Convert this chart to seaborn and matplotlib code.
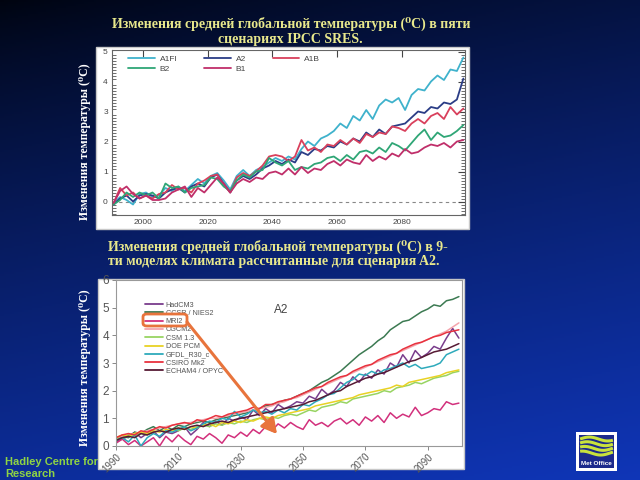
import numpy as np
import pandas as pd
import matplotlib
matplotlib.use('Agg')
import matplotlib.pyplot as plt
import seaborn as sns
from matplotlib.patches import Rectangle, FancyBboxPatch, FancyArrowPatch
from matplotlib.lines import Line2D
from matplotlib.ticker import MultipleLocator

# ---------------- data: top chart (IPCC SRES scenarios) ----------------
years_top = list(range(1991, 2100, 2))
scenarios = ['A1FI', 'A2', 'A1B', 'B2', 'B1']
a1fi = [-0.05, 0.15, 0.05, -0.1, 0.25, 0.3, 0.15, 0.2, 0.45, 0.35,
        0.5, 0.35, 0.55, 0.75, 0.6, 0.85, 0.95, 0.7, 0.4, 0.85,
        1.05, 0.85, 1.05, 1.15, 1.3, 1.45, 1.35, 1.5, 1.4, 1.75,
        2.0, 1.85, 2.1, 2.2, 2.35, 2.6, 2.45, 2.85, 2.7, 3.05,
        2.75, 3.2, 3.4, 3.3, 3.45, 3.05, 3.55, 3.75, 3.7, 4.0,
        4.2, 4.05, 4.4, 4.35, 4.8]
a2 = [-0.1, 0.1, 0.2, 0.0, 0.2, 0.25, 0.2, 0.1, 0.3, 0.4,
      0.45, 0.3, 0.5, 0.6, 0.5, 0.8, 0.9, 0.6, 0.3, 0.7,
      0.85, 0.75, 0.9, 1.1, 1.2, 1.35, 1.25, 1.4, 1.3, 1.65,
      1.55, 1.75, 1.7, 1.85, 1.8, 2.0, 1.9, 2.1, 2.0, 2.3,
      2.15, 2.4, 2.25, 2.5, 2.55, 2.6, 2.8, 3.0, 2.95, 3.15,
      3.1, 3.3, 3.25, 3.4, 4.1]
a1b = [-0.05, 0.45, 0.2, 0.3, 0.1, 0.2, 0.1, 0.25, 0.3, 0.55,
       0.4, 0.45, 0.3, 0.6, 0.7, 0.85, 0.9, 0.55, 0.3, 0.8,
       0.95, 0.85, 1.0, 1.2, 1.5, 1.55, 1.5, 1.35, 1.5, 2.05,
       1.7, 1.8, 1.65, 1.9, 1.85, 2.05, 1.9, 2.1, 1.95, 2.25,
       2.15, 2.3, 2.25, 2.5, 2.45, 2.35, 2.6, 2.75, 2.6, 2.85,
       2.95, 2.75, 3.15, 2.9, 3.1]
b2 = [-0.1, 0.05, 0.3, 0.15, 0.3, 0.2, 0.3, 0.1, 0.6, 0.45,
      0.5, 0.3, 0.45, 0.5, 0.55, 0.8, 0.75, 0.5, 0.35, 0.7,
      0.9, 0.8, 1.0, 1.05, 1.45, 1.3, 1.2, 1.35, 1.05, 1.15,
      1.1, 1.25, 1.3, 1.45, 1.5, 1.35, 1.55, 1.4, 1.65, 1.7,
      1.6, 1.8, 1.65, 1.95, 1.85, 1.7, 1.95, 2.2, 2.4, 2.05,
      2.3, 2.15, 2.2, 2.35, 2.55]
b1 = [-0.05, 0.35, 0.5, 0.25, 0.1, 0.2, 0.05, 0.05, 0.1, 0.3,
      0.4, 0.5, 0.15, 0.45, 0.3, 0.55, 0.8, 0.6, 0.3, 0.6,
      0.75, 0.65, 0.8, 0.75, 0.95, 1.0, 0.9, 1.1, 0.9, 1.15,
      0.95, 1.1, 1.05, 1.25, 1.35, 1.2, 1.4, 1.3, 1.25, 1.55,
      1.35, 1.5, 1.4, 1.6, 1.5, 1.75, 1.6, 1.65, 1.8, 1.9,
      1.85, 1.95, 1.8, 2.0, 2.05]
top_series = [a1fi, a2, a1b, b2, b1]
top_colors = ['#3fb2cc', '#2b3d86', '#d9405c', '#2fa676', '#c02f6a']

# ---------------- data: bottom chart (9 models, A2) ----------------
years_bot = list(range(1990, 2101, 2))
models = ['HadCM3', 'CCSR / NIES2', 'MRI2', 'CGCM2', 'CSM 1.3', 'DOE PCM',
          'GFDL_R30_c', 'CSIRO Mk2', 'ECHAM4 / OPYC']
hadcm3 = [0.15, 0.25, 0.35, 0.5, 0.3, 0.45, 0.55, 0.3, 0.5, 0.45,
          0.55, 0.7, 0.4, 0.6, 0.85, 0.7, 0.9, 0.75, 1.0, 0.9,
          1.05, 0.95, 1.3, 1.1, 1.35, 1.2, 1.5, 1.35, 1.45, 1.6,
          1.55, 1.8, 1.7, 2.05, 1.85, 2.0, 2.3, 2.15, 2.5, 2.3,
          2.6, 2.45, 2.75, 2.6, 3.0, 2.85, 3.3, 3.0, 3.45, 3.2,
          3.35, 3.6, 3.5, 3.9, 4.25, 3.9]
ccsr = [0.2, 0.35, 0.3, 0.5, 0.45, 0.6, 0.7, 0.55, 0.7, 0.6,
        0.75, 0.7, 0.8, 0.85, 0.9, 0.85, 0.95, 1.0, 1.05, 1.1,
        1.15, 1.2, 1.3, 1.35, 1.45, 1.5, 1.55, 1.65, 1.7, 1.8,
        1.9, 2.0, 2.15, 2.3, 2.4, 2.55, 2.7, 2.9, 3.1, 3.3,
        3.45, 3.6, 3.8, 3.95, 4.2, 4.35, 4.5, 4.55, 4.7, 4.85,
        4.95, 5.1, 5.05, 5.25, 5.3, 5.4]
mri2 = [0.1, 0.25, 0.05, 0.2, 0.0, 0.15, 0.3, 0.0, 0.35, 0.15,
        0.4, 0.2, 0.05, 0.35, 0.25, 0.45, 0.3, 0.1, 0.4, 0.3,
        0.5, 0.35, 0.6, 0.45, 0.7, 0.55, 0.8, 0.65, 0.85, 0.7,
        0.6, 0.95, 0.75, 0.85, 0.7, 0.9, 1.0, 0.8, 0.95, 0.75,
        1.05, 0.9, 1.1, 0.85, 1.2, 1.0, 1.15, 1.05, 1.4, 1.1,
        1.2, 1.35, 1.3, 1.6, 1.5, 1.55]
cgcm2 = [0.3, 0.35, 0.4, 0.45, 0.5, 0.55, 0.6, 0.65, 0.7, 0.75,
         0.8, 0.82, 0.85, 0.9, 0.95, 1.0, 1.0, 1.05, 1.1, 1.15,
         1.2, 1.25, 1.3, 1.35, 1.4, 1.45, 1.55, 1.6, 1.7, 1.75,
         1.85, 1.95, 2.05, 2.15, 2.25, 2.35, 2.45, 2.55, 2.65, 2.75,
         2.85, 2.95, 3.05, 3.15, 3.25, 3.35, 3.45, 3.55, 3.65, 3.75,
         3.85, 3.95, 4.05, 4.15, 4.3, 4.45]
csm13 = [0.25, 0.3, 0.4, 0.35, 0.45, 0.4, 0.5, 0.55, 0.5, 0.6,
         0.55, 0.65, 0.6, 0.7, 0.75, 0.7, 0.8, 0.75, 0.85, 0.8,
         0.9, 0.85, 0.95, 1.0, 0.95, 1.05, 1.0, 1.1, 1.15, 1.1,
         1.2, 1.3, 1.25, 1.4, 1.45, 1.5, 1.6, 1.55, 1.7, 1.75,
         1.8, 1.85, 1.9, 2.0, 1.95, 2.1, 2.15, 2.2, 2.3, 2.25,
         2.35, 2.45, 2.5, 2.55, 2.65, 2.7]
doepcm = [0.3, 0.4, 0.35, 0.45, 0.5, 0.45, 0.55, 0.5, 0.6, 0.55,
          0.65, 0.6, 0.7, 0.65, 0.75, 0.8, 0.7, 0.85, 0.8, 0.9,
          0.85, 0.95, 0.9, 1.0, 1.05, 1.0, 1.1, 1.15, 1.2, 1.25,
          1.3, 1.35, 1.45, 1.5, 1.55, 1.6, 1.65, 1.7, 1.75, 1.85,
          1.9, 1.95, 2.0, 2.05, 2.1, 2.2, 2.15, 2.3, 2.35, 2.4,
          2.45, 2.5, 2.55, 2.65, 2.7, 2.75]
gfdl = [0.2, 0.3, 0.15, 0.4, 0.0, 0.3, 0.45, 0.35, 0.55, 0.5,
        0.6, 0.7, 0.55, 0.65, 0.8, 0.9, 0.85, 1.0, 0.95, 1.25,
        1.05, 1.15, 1.3, 1.2, 1.25, 1.15, 1.3, 1.2, 1.35, 1.3,
        1.5, 1.45, 1.6, 1.7, 1.85, 1.9, 2.1, 2.3, 2.4, 2.6,
        2.55, 2.7, 2.6, 2.75, 2.8, 2.9, 3.0, 2.85, 2.95, 2.8,
        2.85, 2.9, 3.0, 3.3, 3.4, 3.5]
csiro = [0.3, 0.4, 0.45, 0.4, 0.55, 0.5, 0.6, 0.7, 0.65, 0.75,
         0.8, 0.85, 0.8, 0.95, 0.9, 1.0, 1.1, 1.05, 1.15, 1.2,
         1.25, 1.3, 1.4, 1.35, 1.5, 1.5, 1.6, 1.65, 1.7, 1.8,
         1.9, 2.0, 2.1, 2.15, 2.3, 2.4, 2.5, 2.55, 2.7, 2.8,
         2.9, 2.95, 3.1, 3.2, 3.3, 3.35, 3.5, 3.6, 3.7, 3.75,
         3.85, 3.95, 4.0, 4.1, 4.15, 4.2]
echam4 = [0.2, 0.3, 0.35, 0.3, 0.45, 0.4, 0.5, 0.55, 0.5, 0.6,
          0.65, 0.6, 0.7, 0.75, 0.7, 0.8, 0.85, 0.9, 0.85, 0.95,
          1.0, 1.05, 1.1, 1.15, 1.2, 1.25, 1.3, 1.35, 1.4, 1.45,
          1.5, 1.6, 1.65, 1.75, 1.85, 1.95, 2.0, 2.15, 2.25, 2.35,
          2.45, 2.5, 2.6, 2.65, 2.75, 2.85, 2.95, 3.05, 3.1, 3.2,
          3.3, 3.4, 3.45, 3.5, 3.6, 3.7]
bot_series = [hadcm3, ccsr, mri2, cgcm2, csm13, doepcm, gfdl, csiro, echam4]
bot_colors = ['#7a3d8c', '#3c7a52', '#d2307c', '#f4a4ac', '#98d462',
              '#e8d224', '#2eaabb', '#e8323e', '#561a34']

ylabel = 'Изменения температуры (⁰C)'
title1 = 'Изменения средней глобальной температуры (⁰C) в пяти'
title1b = 'сценариях IPCC SRES.'
title2a = 'Изменения средней глобальной температуры (⁰C) в 9-'
title2b = 'ти моделях климата рассчитанные для сценария A2.'

# ---------------- figure ----------------
sns.set_theme(style='white')
plt.rcParams['font.family'] = ['Liberation Sans', 'DejaVu Sans']
SERIF = ['Liberation Serif', 'DejaVu Serif']

W, H = 640, 480
fig = plt.figure(figsize=(6.4, 4.8), dpi=100)


def fx(px):
    return px / W


def fy(py):
    return 1 - py / H


# background gradient
bg = fig.add_axes([0, 0, 1, 1], zorder=-10)
v = np.linspace(0, 1, 240)[:, None]
u = np.linspace(0, 1, 320)[None, :]
t = np.clip(0.78 * v + 0.22 * u, 0, 1) ** 0.8
c0 = np.array([0.0, 0.015, 0.06])
c1 = np.array([0.06, 0.21, 0.72])
img = c0 + (c1 - c0) * t[..., None]
bg.imshow(img, aspect='auto', extent=[0, 1, 0, 1])
bg.set_xlim(0, 1); bg.set_ylim(0, 1)
bg.axis('off')

# white panels
fig.patches.append(Rectangle((fx(96), fy(229)), fx(469 - 96), (229 - 47) / H,
                             transform=fig.transFigure, facecolor='white',
                             edgecolor='#c8c8c8', lw=1, zorder=1))
fig.patches.append(Rectangle((fx(98), fy(469)), fx(464 - 98), (469 - 279) / H,
                             transform=fig.transFigure, facecolor='white',
                             edgecolor='#c8c8c8', lw=1, zorder=1))

# ---------------- top axes ----------------
ax1 = fig.add_axes([fx(112), fy(215), fx(465 - 112), (215 - 50) / H])
ax1.set_zorder(2)
df1 = pd.concat([pd.DataFrame({'year': years_top, 'temp': s, 'scenario': n})
                 for n, s in zip(scenarios, top_series)])
sns.lineplot(data=df1, x='year', y='temp', hue='scenario', hue_order=scenarios,
             palette=dict(zip(scenarios, top_colors)), ax=ax1, lw=1.3,
             legend=False, estimator=None)
ax1.axhline(0, color='#888888', ls=(0, (3, 3)), lw=0.8, zorder=0)
ax1.set_xlim(1990.5, 2099.5)
ax1.set_ylim(-0.45, 5.05)
ax1.set_xticks([2000, 2020, 2040, 2060, 2080])
ax1.set_yticks([0, 1, 2, 3, 4, 5])
ax1.yaxis.set_minor_locator(MultipleLocator(0.1))
ax1.tick_params(axis='both', which='major', direction='in', length=5, width=0.8,
                color='#444444', labelsize=6, labelcolor='#444444',
                top=True, right=True, pad=3)
ax1.tick_params(axis='y', which='minor', direction='in', length=3, width=0.6,
                color='#555555', left=True, right=True)
ax1.set_xlabel(''); ax1.set_ylabel('')
for sp in ax1.spines.values():
    sp.set_color('#666666'); sp.set_linewidth(0.8)
order = [0, 3, 1, 4, 2]
hs = [Line2D([], [], color=top_colors[i], lw=1.3) for i in order]
ax1.legend(hs, [scenarios[i] for i in order], ncol=3, loc='upper left',
           bbox_to_anchor=(0.045, 0.97), frameon=False, fontsize=6,
           handlelength=3.2, handletextpad=0.6, columnspacing=3.2,
           labelspacing=0.25, borderpad=0, borderaxespad=0,
           labelcolor='#444444')

# ---------------- bottom axes ----------------
ax2 = fig.add_axes([fx(116), fy(446), fx(462 - 116), (446 - 280) / H])
ax2.set_zorder(2)
df2 = pd.concat([pd.DataFrame({'year': years_bot, 'temp': s, 'model': n})
                 for n, s in zip(models, bot_series)])
sns.lineplot(data=df2, x='year', y='temp', hue='model', hue_order=models,
             palette=dict(zip(models, bot_colors)), ax=ax2, lw=1.1,
             legend=False, estimator=None)
ax2.set_xlim(1990, 2101)
ax2.set_ylim(0, 6)
ax2.set_xticks([1990, 2010, 2030, 2050, 2070, 2090])
ax2.set_yticks([0, 1, 2, 3, 4, 5, 6])
ax2.tick_params(axis='both', which='major', direction='out', length=3,
                width=0.7, color='#888888', labelcolor='#555555',
                left=True, bottom=True)
ax2.tick_params(axis='y', labelsize=8.5, pad=2)
ax2.tick_params(axis='x', labelsize=7, pad=1)
for lab in ax2.get_xticklabels():
    lab.set_rotation(45)
    lab.set_ha('right')
    lab.set_rotation_mode('anchor')
ax2.set_xlabel(''); ax2.set_ylabel('')
for sp in ax2.spines.values():
    sp.set_color('#999999'); sp.set_linewidth(0.8)
hs2 = [Line2D([], [], color=c, lw=1.3) for c in bot_colors]
ax2.legend(hs2, models, loc='upper left', bbox_to_anchor=(0.085, 0.87),
           frameon=False, fontsize=5.2, handlelength=2.4, handletextpad=0.4,
           labelspacing=0.17, borderpad=0, borderaxespad=0,
           labelcolor='#555555')
ax2.text(0.477, 0.82, 'A2', transform=ax2.transAxes, fontsize=8.5,
         color='#444444', ha='center', va='center')

# orange highlight box + arrow
fig.patches.append(FancyBboxPatch((fx(143), fy(326)), fx(44), 12 / H,
                                  boxstyle='round,pad=0,rounding_size=0.006',
                                  transform=fig.transFigure, facecolor='none',
                                  edgecolor='#e8743c', lw=2.0, zorder=5))
fig.patches.append(FancyArrowPatch((fx(187), fy(322)), (fx(277), fy(434)),
                                   transform=fig.transFigure,
                                   arrowstyle='-|>,head_length=9,head_width=5',
                                   color='#e8743c', lw=2.2, zorder=5,
                                   shrinkA=0, shrinkB=0))

# ---------------- texts ----------------
tcol = '#e8e88c'
fig.text(fx(291), fy(24), title1, ha='center', va='center', color=tcol,
         fontweight='bold', fontsize=10, family=SERIF)
fig.text(fx(290), fy(39), title1b, ha='center', va='center', color=tcol,
         fontweight='bold', fontsize=10, family=SERIF)
fig.text(fx(108), fy(247), title2a, ha='left', va='center', color=tcol,
         fontweight='bold', fontsize=10, family=SERIF)
fig.text(fx(108), fy(262), title2b, ha='left', va='center', color=tcol,
         fontweight='bold', fontsize=10, family=SERIF)
fig.text(fx(85), fy(142), ylabel, rotation=90, ha='center', va='center',
         color='white', fontweight='bold', fontsize=8.5, family=SERIF)
fig.text(fx(85), fy(368), ylabel, rotation=90, ha='center', va='center',
         color='white', fontweight='bold', fontsize=8.5, family=SERIF)
fig.text(fx(5), fy(462), 'Hadley Centre for', ha='left', va='center',
         color='#8fd444', fontweight='bold', fontsize=8)
fig.text(fx(5), fy(474), 'Research', ha='left', va='center',
         color='#8fd444', fontweight='bold', fontsize=8)

# ---------------- Met Office logo ----------------
lg = fig.add_axes([fx(576), fy(471), fx(41), 39 / H], zorder=3)
lg.set_xlim(0, 1); lg.set_ylim(0, 1); lg.axis('off')
lg.add_patch(Rectangle((0, 0), 1, 1, facecolor='white', edgecolor='none'))
lg.add_patch(Rectangle((0.07, 0.07), 0.86, 0.86, facecolor='#1c2a8c',
                       edgecolor='none'))
xs = np.linspace(0.1, 0.9, 60)
for k, base in enumerate([0.82, 0.70, 0.58, 0.46]):
    lg.plot(xs, base + 0.05 * np.sin((xs - 0.1) * 7.0 + k * 0.4),
            color='#c9e23c', lw=2.2, solid_capstyle='butt')
lg.text(0.5, 0.18, 'Met Office', color='white', fontsize=4.6,
        fontweight='bold', ha='center', va='center')

fig.savefig('out.png', dpi=100)
